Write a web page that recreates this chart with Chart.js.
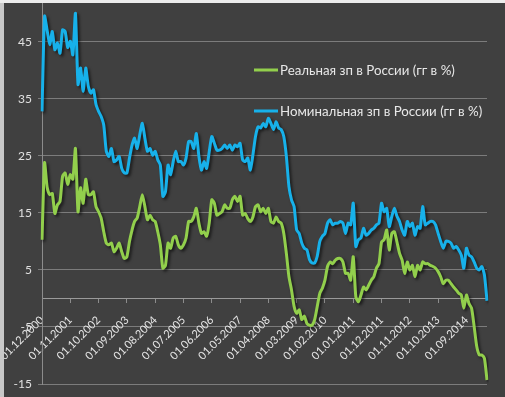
<!DOCTYPE html>
<html><head><meta charset="utf-8">
<script src="https://cdn.jsdelivr.net/npm/chart.js@4"></script>
<style>
html,body{margin:0;padding:0;background:#c8c8c8;width:505px;height:397px;overflow:hidden}
#top{position:absolute;left:0;top:0;width:505px;height:3px;background:#ececec}
#wrap{position:absolute;left:4px;top:3px;width:501px;height:394px;background:#404040}
canvas{display:block}
</style></head><body>
<div id="top"></div>
<div id="wrap"><canvas id="c" width="501" height="394"></canvas></div>
<script>
const categories = [
'01.12.2000',
'01.01.2001','01.02.2001','01.03.2001','01.04.2001','01.05.2001','01.06.2001','01.07.2001','01.08.2001','01.09.2001','01.10.2001','01.11.2001','01.12.2001',
'01.01.2002','01.02.2002','01.03.2002','01.04.2002','01.05.2002','01.06.2002','01.07.2002','01.08.2002','01.09.2002','01.10.2002','01.11.2002','01.12.2002',
'01.01.2003','01.02.2003','01.03.2003','01.04.2003','01.05.2003','01.06.2003','01.07.2003','01.08.2003','01.09.2003','01.10.2003','01.11.2003','01.12.2003',
'01.01.2004','01.02.2004','01.03.2004','01.04.2004','01.05.2004','01.06.2004','01.07.2004','01.08.2004','01.09.2004','01.10.2004','01.11.2004','01.12.2004',
'01.01.2005','01.02.2005','01.03.2005','01.04.2005','01.05.2005','01.06.2005','01.07.2005','01.08.2005','01.09.2005','01.10.2005','01.11.2005','01.12.2005',
'01.01.2006','01.02.2006','01.03.2006','01.04.2006','01.05.2006','01.06.2006','01.07.2006','01.08.2006','01.09.2006','01.10.2006','01.11.2006','01.12.2006',
'01.01.2007','01.02.2007','01.03.2007','01.04.2007','01.05.2007','01.06.2007','01.07.2007','01.08.2007','01.09.2007','01.10.2007','01.11.2007','01.12.2007',
'01.01.2008','01.02.2008','01.03.2008','01.04.2008','01.05.2008','01.06.2008','01.07.2008','01.08.2008','01.09.2008','01.10.2008','01.11.2008','01.12.2008',
'01.01.2009','01.02.2009','01.03.2009','01.04.2009','01.05.2009','01.06.2009','01.07.2009','01.08.2009','01.09.2009','01.10.2009','01.11.2009','01.12.2009',
'01.01.2010','01.02.2010','01.03.2010','01.04.2010','01.05.2010','01.06.2010','01.07.2010','01.08.2010','01.09.2010','01.10.2010','01.11.2010','01.12.2010',
'01.01.2011','01.02.2011','01.03.2011','01.04.2011','01.05.2011','01.06.2011','01.07.2011','01.08.2011','01.09.2011','01.10.2011','01.11.2011','01.12.2011',
'01.01.2012','01.02.2012','01.03.2012','01.04.2012','01.05.2012','01.06.2012','01.07.2012','01.08.2012','01.09.2012','01.10.2012','01.11.2012','01.12.2012',
'01.01.2013','01.02.2013','01.03.2013','01.04.2013','01.05.2013','01.06.2013','01.07.2013','01.08.2013','01.09.2013','01.10.2013','01.11.2013','01.12.2013',
'01.01.2014','01.02.2014','01.03.2014','01.04.2014','01.05.2014','01.06.2014','01.07.2014','01.08.2014','01.09.2014','01.10.2014','01.11.2014','01.12.2014',
'01.01.2015','01.02.2015','01.03.2015','01.04.2015','01.05.2015'
];
const xTickLabels = ['01.12.2000','01.11.2001','01.10.2002','01.09.2003','01.08.2004','01.07.2005','01.06.2006','01.05.2007','01.04.2008','01.03.2009','01.02.2010','01.01.2011','01.12.2011','01.11.2012','01.10.2013','01.09.2014'];
const yTicks = [-15, -5, 5, 15, 25, 35, 45];
const seriesNames = ['Реальная зп в России (гг в %)', 'Номинальная зп в России (гг в %)'];

const realWage = [
10.3, 23.8, 19.5, 18.2, 18.4, 14.9, 16.4, 17, 21.4, 22, 20, 21.7, 20.9, 26.3, 15.2, 19.4, 16.7, 20.9, 18.2, 18.2,
18.7, 16.1, 15.2, 14.1, 11.7, 9.7, 9.4, 9.7, 8.2, 8.8, 9.7, 8.2, 7, 7.3, 10, 12, 13.5, 14.1, 16.1, 18.2,
16.1, 13.8, 14.6, 13.8, 13.5, 11.7, 9.4, 5.3, 5.8, 9.7, 8.8, 10.6, 10.9, 9.4, 8.8, 9.4, 10.6, 13.5,
13.5, 14.3, 15.8, 13.2, 11.4, 11.7, 10.9, 13.2, 17.3, 16.7, 14.6, 14.9, 15.2, 16.4, 15.8, 15.8, 17.3, 17.9, 17, 17.9,
14.6, 14.9, 14, 13.5, 14.3, 16.1, 16.4, 15.2, 15.8, 14.9, 15.8, 13.5, 13.2, 14.3, 13.5, 13.2, 11.4, 7.9, 3.8, 1.5,
-1.4, -2.6, -2, -3.7, -3.1, -4.4, -4.7, -4.7, -3.7, -1.4, 0.9, 1.8, 3.2, 5.6, 6.4, 6.1, 6.7, 7,
7, 6.4, 4.4, 4.4, 3.2, 7.3, 0.3, -0.6, 0.6, 2, 1.5, 2.3, 3.2, 3.8, 5.3, 6.1, 9.9, 10.3, 12, 8.5,
11.4, 11.7, 9.9, 7.9, 6.7, 4.4, 6.4, 5, 5.8, 3.8, 5.8, 5, 6.4, 6.1, 6.1, 5.8, 5.6, 5.3, 4.7, 3.8,
2.6, 3.2, 3.2, 2.6, 2, 1.5, 0.9, 0.6, -1.7, 0.6, -0.9, -1.7, -4.9, -8.4, -9.9, -9.9, -10.5, -14.3
];
const nominalWage = [
32.8, 49.5, 47, 44.5, 46.8, 43.6, 44.8, 43, 47.1, 46.8, 44, 45.1, 42.7, 50, 37.5, 40.4, 36.3, 40.4, 37.2, 36,
36.6, 34, 32.8, 31.9, 30.4, 25.8, 24.9, 26.3, 24, 24.3, 24.9, 22.8, 22, 22, 24.6, 26.9, 28.1, 26.3, 28.7, 30.7,
28.1, 25.8, 26.3, 25.1, 25.8, 24.3, 23.4, 17.9, 18.7, 23.4, 21.7, 24, 25.8, 24, 24, 23.4, 24.6, 27.5,
27.5, 26.3, 28.9, 24.9, 22.5, 24, 22.8, 25.7, 28.4, 27.2, 26, 26, 26.3, 26.9, 26.3, 26.9, 26, 26.9, 26.6, 27.2,
24.3, 24, 24.6, 22.5, 25.2, 28.4, 30.1, 29.9, 30.7, 30.1, 31.6, 30.7, 29.6, 31, 29.9, 29.6, 28.4, 24.9, 19.6, 17.3,
16.1, 12, 11.4, 9.7, 8.8, 8.5, 6.8, 6.2, 6.2, 7.4, 10, 10.9, 11.4, 13.2, 13.8, 12.9, 13.2, 13.2,
13.5, 13.2, 11.4, 13.2, 12.9, 16.7, 9.1, 10.3, 10.6, 12.3, 11.1, 11.4, 12, 12.3, 12.9, 13.2, 16.7, 15.2, 15.8, 12.6,
14.4, 15.8, 14.4, 13.5, 12, 11.1, 13.5, 12.6, 13.2, 11.1, 12.6, 12.3, 16.1, 12.9, 13.2, 13.5, 13.5, 12.9, 11.4, 10,
8.8, 10, 10, 9.7, 8.8, 9.1, 8.5, 7.6, 5.3, 8.8, 7.6, 7.3, 6.4, 5.3, 5, 5.6, 4.1, -0.4
];

const FONT = 'Lato, "Liberation Sans", sans-serif';

const shadowPlugin = {
  id: 'lineShadow',
  beforeDatasetDraw(chart) {
    const c = chart.ctx;
    c.save();
    c.shadowColor = 'rgba(0,0,0,0.6)';
    c.shadowBlur = 3;
    c.shadowOffsetX = 2;
    c.shadowOffsetY = 2;
  },
  afterDatasetDraw(chart) { chart.ctx.restore(); }
};

const legendPlugin = {
  id: 'insideLegend',
  afterDraw(chart) {
    const c = chart.ctx;
    c.save();
    const x0 = 250, rows = [67, 108];
    chart.data.datasets.forEach((ds, k) => {
      c.strokeStyle = ds.borderColor;
      c.lineWidth = 3;
      c.beginPath();
      c.moveTo(x0, rows[k]);
      c.lineTo(x0 + 24, rows[k]);
      c.stroke();
      c.fillStyle = '#e8e8e8';
      c.font = '13.3px ' + FONT;
      c.textBaseline = 'middle';
      c.textAlign = 'left';
      c.fillText(ds.label, x0 + 26, rows[k] + 1);
    });
    c.restore();
  }
};

new Chart(document.getElementById('c'), {
  type: 'line',
  data: {
    labels: categories,
    datasets: [
      { label: seriesNames[0], data: realWage, borderColor: '#92cf4c', borderWidth: 3, pointRadius: 0, tension: 0.2, fill: false },
      { label: seriesNames[1], data: nominalWage, borderColor: '#17b1ea', borderWidth: 3, pointRadius: 0, tension: 0.2, fill: false }
    ]
  },
  options: {
    responsive: false,
    animation: false,
    layout: { padding: { left: 0, right: 18, top: 0, bottom: 13 } },
    plugins: { legend: { display: false }, tooltip: { enabled: false } },
    scales: {
      x: {
        position: { y: 0 },
        offset: false,
        grid: { drawOnChartArea: false, drawTicks: true, tickLength: 4, color: '#8c8c8c' },
        border: { color: '#9a9a9a', width: 1 },
        ticks: {
          autoSkip: false, maxRotation: 45, minRotation: 45,
          color: '#e6e6e6', font: { family: FONT, size: 11 }, padding: 11,
          callback: function (v) { const l = this.getLabelForValue(v); return xTickLabels.includes(l) ? l : null; }
        },
        afterFit: (s) => { s.height = 0; s.paddingLeft = 0; s.paddingRight = 0; }
      },
      y: {
        min: -15, max: 51.8,
        afterBuildTicks: (s) => { s.ticks = yTicks.map(v => ({ value: v })); },
        afterFit: (s) => { s.width = 38; s.paddingTop = 0; s.paddingBottom = 0; },
        grid: { color: '#7c7c7c', tickLength: 4 },
        border: { color: '#8c8c8c' },
        ticks: { color: '#e0e0e0', font: { family: FONT, size: 12 }, padding: 6 }
      }
    }
  },
  plugins: [shadowPlugin, legendPlugin]
});
</script>
</body></html>
